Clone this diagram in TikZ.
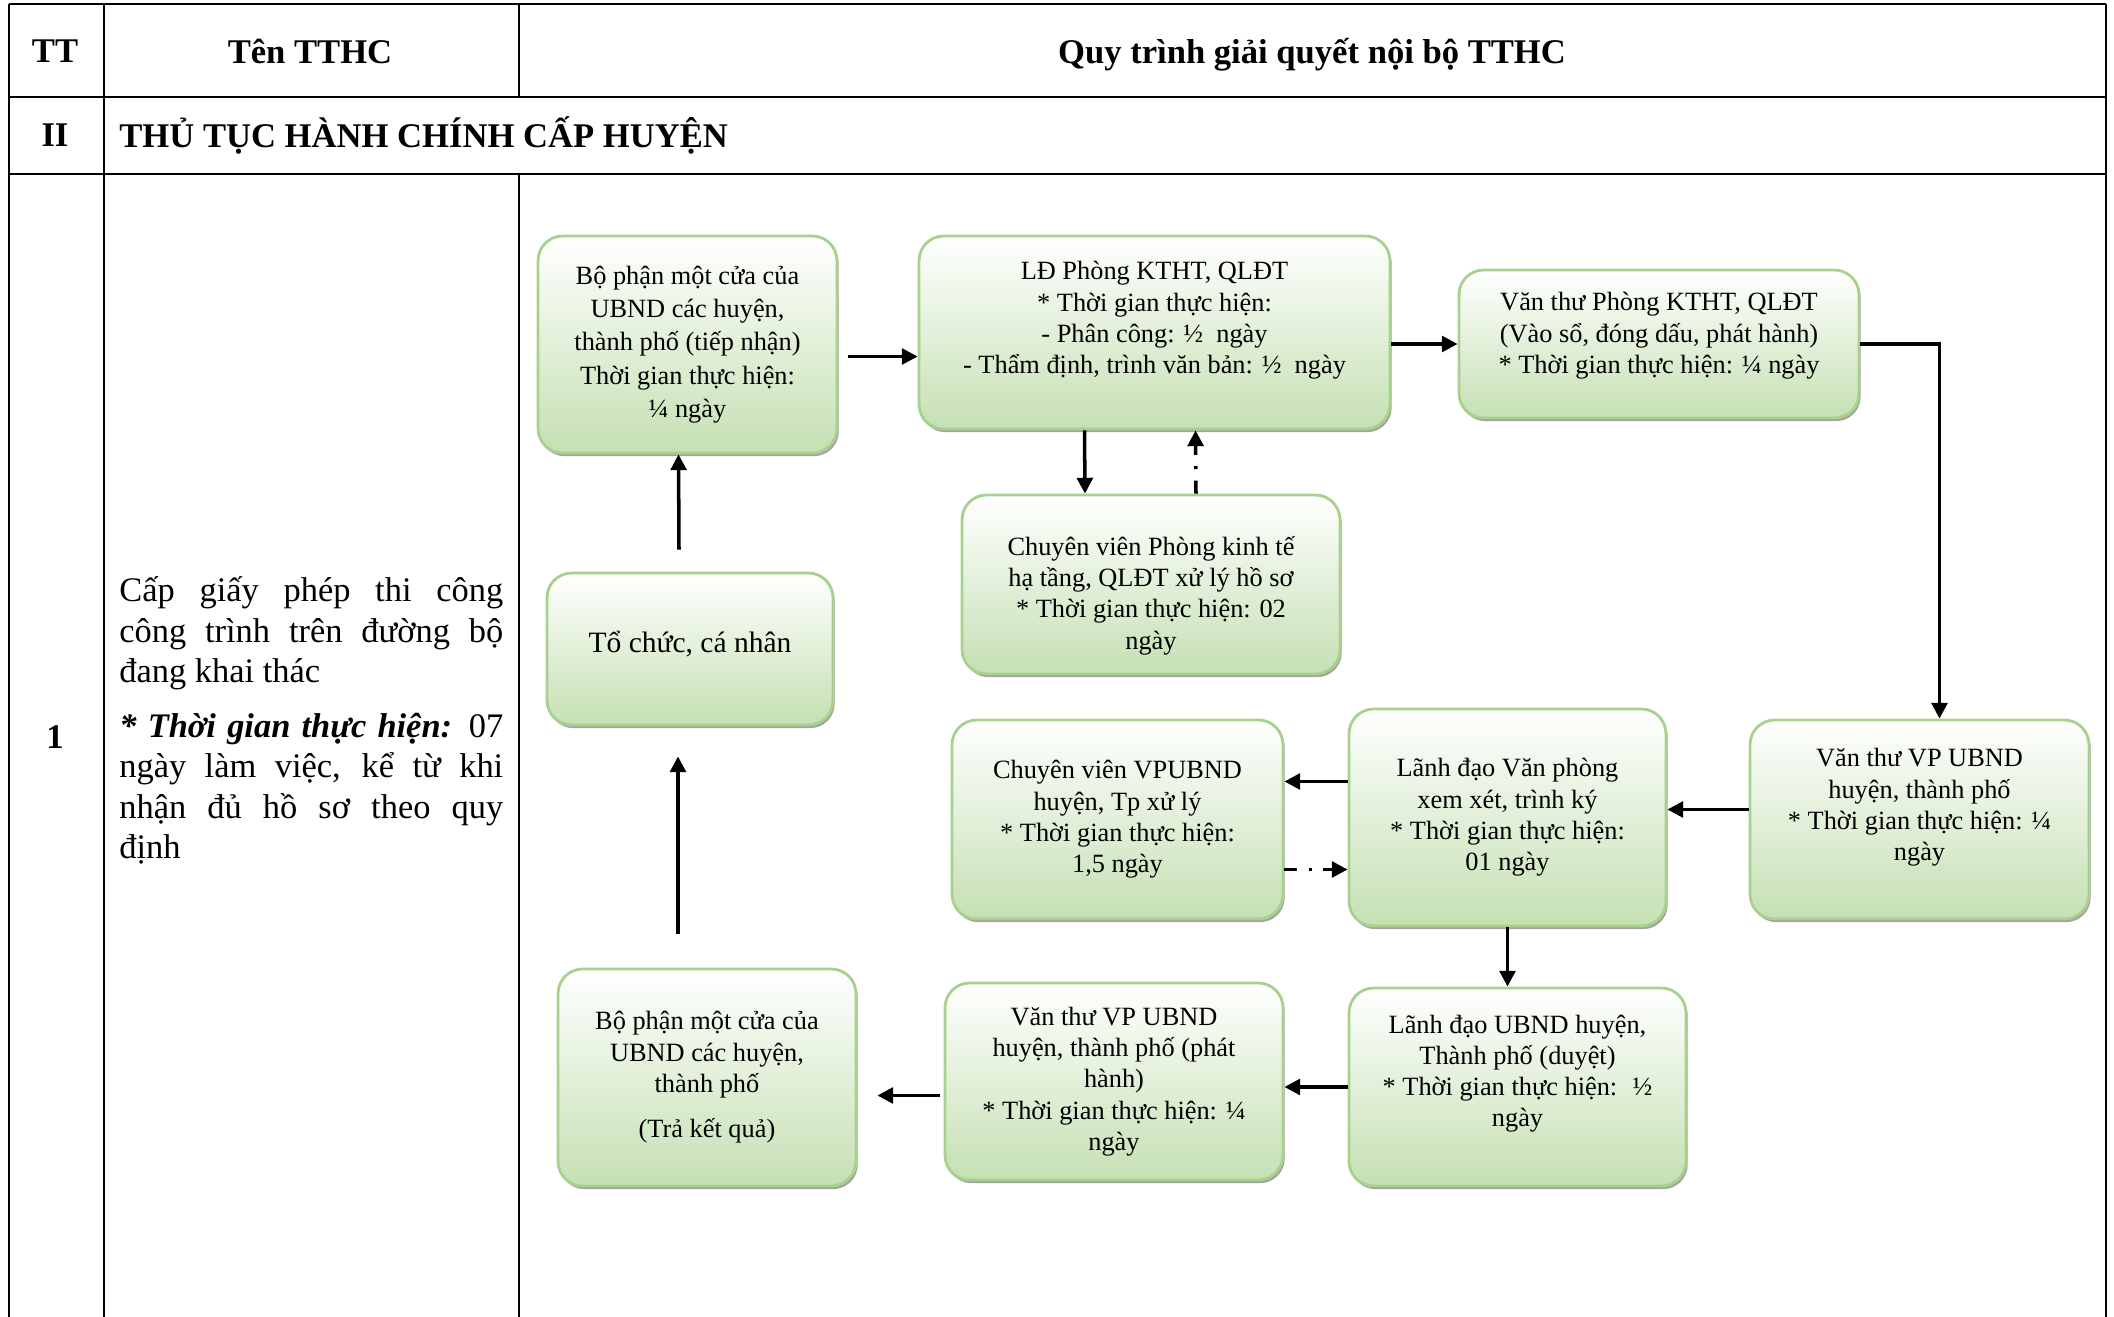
\documentclass[tikz,border=0pt]{standalone}
\usepackage{fontspec}
\setmainfont{Liberation Serif}
\usetikzlibrary{arrows.meta,calc,shadows}

\definecolor{boxgreen}{HTML}{C5E0B3}
\definecolor{boxline}{HTML}{A9D18E}

% them khoang duoi / tren dong chu trong hop
\newcommand{\padbelow}[1]{\rule[-#1]{0pt}{#1}}
\newcommand{\padabove}[1]{\rule{0pt}{#1}}

\tikzset{
  stage/.style={draw=boxline, line width=1.6pt, rounded corners=14pt,
    top color=white, bottom color=boxgreen, align=center,
    font=\fontsize{15}{17.8}\selectfont,
    drop shadow={shadow xshift=1pt, shadow yshift=-1.8pt, fill=black!45, opacity=0.8}},
  arr/.style={line width=2pt, -{Triangle[length=9pt,width=9pt]}},
  backflow/.style={dash pattern=on 7.4pt off 6.5pt on 1.7pt off 6.5pt},
  cell/.style={font=\fontsize{19.7}{23}\selectfont\bfseries},
  grid/.style={line width=1.5pt}
}

\begin{document}
\begin{tikzpicture}[x=0.02cm, y=-0.02cm]
\useasboundingbox (0,0) rectangle (2114,1317);
% khung bang
\draw[grid] (9,4) -- (2106,4);
\draw[grid] (9,97) -- (2106,97);
\draw[grid] (9,174) -- (2106,174);
\draw[grid] (9,4) -- (9,1317);
\draw[grid] (104,4) -- (104,1317);
\draw[grid] (519,4) -- (519,97);
\draw[grid] (519,174) -- (519,1317);
\draw[grid] (2106,4) -- (2106,1317);

% tieu de
\node[cell] (tt) at (55,51) {TT};
\node[cell] (tentthc) at (310,51) {Tên TTHC};
\node[cell] (quytrinh) at (1312,55) {Quy trình giải quyết nội bộ TTHC};
\node[cell] (muc) at (55,135) {II};
\node[cell, anchor=west, inner sep=0pt] (caphuyen) at (119,135) {THỦ TỤC HÀNH CHÍNH CẤP HUYỆN};
\node[cell] (stt) at (55,737) {1};
\node[anchor=base west, text width=7.68cm, align=justify, inner sep=0pt,
  font=\fontsize{19.6}{23}\selectfont] (tenthutuc) at (119,602)
  {Cấp giấy phép thi công\linebreak công trình trên đường bộ\linebreak đang khai thác\par\vspace{8pt}
   \textbf{\textit{* Thời gian thực hiện:}} 07\linebreak ngày làm việc, kể từ khi\linebreak nhận đủ hồ sơ theo quy\linebreak định};

% cac buoc
\node[stage, minimum width=5.98cm, minimum height=4.34cm, font=\fontsize{15}{19}\selectfont] (tiepnhan) at (687.5,344.5)
  {Bộ phận một cửa của\\ UBND các huyện,\\ thành phố (tiếp nhận)\\ Thời gian thực hiện:\\ ¼ ngày};
\node[stage, minimum width=9.42cm, minimum height=3.86cm] (ldphong) at (1154.5,332.5)
  {LĐ Phòng KTHT, QLĐT\\ * Thời gian thực hiện:\\ - Phân công: ½ \ ngày\\ - Thẩm định, trình văn bản: ½ \ ngày\padbelow{17pt}};
\node[stage, minimum width=8cm, minimum height=2.96cm] (vanthuphong) at (1659,344)
  {Văn thư Phòng KTHT, QLĐT\\ (Vào sổ, đóng dấu, phát hành)\\ * Thời gian thực hiện: ¼ ngày\padbelow{12.5pt}};
\node[stage, minimum width=7.56cm, minimum height=3.58cm] (cvphong) at (1151,584.5)
  {\padabove{23.5pt}Chuyên viên Phòng kinh tế\\ hạ tầng, QLĐT xử lý hồ sơ\\ * Thời gian thực hiện: 02\\ ngày};
\node[stage, minimum width=5.72cm, minimum height=3.04cm, font=\fontsize{16.8}{20}\selectfont] (tochuc) at (690,649)
  {Tổ chức, cá nhân\padbelow{8.5pt}};
\node[stage, minimum width=6.62cm, minimum height=3.98cm] (cvvp) at (1117.5,819.5)
  {Chuyên viên VPUBND\\ huyện, Tp xử lý\\ * Thời gian thực hiện:\\ 1,5 ngày};
\node[stage, minimum width=6.34cm, minimum height=4.34cm] (ldvp) at (1507.5,817.5)
  {Lãnh đạo Văn phòng\\ xem xét, trình ký\\ * Thời gian thực hiện:\\ 01 ngày};
\node[stage, minimum width=6.78cm, minimum height=3.98cm] (vanthuvp) at (1919.5,819.5)
  {Văn thư VP UBND\\ huyện, thành phố\\ * Thời gian thực hiện: ¼\\ ngày\padbelow{17pt}};
\node[stage, minimum width=5.96cm, minimum height=4.34cm] (trakq) at (707,1077.5)
  {Bộ phận một cửa của\\ UBND các huyện,\\ thành phố\\[8pt] (Trả kết quả)};
\node[stage, minimum width=6.76cm, minimum height=3.94cm] (vanthuph) at (1114,1081.5)
  {Văn thư VP UBND\\ huyện, thành phố (phát\\ hành)\\ * Thời gian thực hiện: ¼\\ ngày};
\node[stage, minimum width=6.74cm, minimum height=3.96cm] (ldubnd) at (1517.5,1087)
  {Lãnh đạo UBND huyện,\\ Thành phố (duyệt)\\ * Thời gian thực hiện: \ ½\\ ngày\padbelow{18.5pt}};

% luong xu ly
\draw[arr] ($(tiepnhan.east)+(10,12)$) -- ($(ldphong.west)+(0,24)$);
\draw[arr] (ldphong.east |- vanthuphong.west) -- (vanthuphong.west);
\draw[arr] (vanthuphong.east) -| ($(vanthuvp.north)+(20,0)$);
\draw[arr] ($(ldphong.south)+(-70,0)$) -- ($(cvphong.north)+(-66,0)$);
\draw[arr, backflow] ($(cvphong.north)+(45,0)$) -- ($(ldphong.south)+(41,0)$);
\draw[arr] ($(vanthuvp.west)+(0,-10)$) -- ($(ldvp.east)+(0,-8)$);
\draw[arr] ($(ldvp.west)+(0,-36)$) -- ($(cvvp.east)+(0,-38)$);
\draw[arr, backflow] ($(cvvp.east)+(0,50)$) -- ($(ldvp.west)+(0,52)$);
\draw[arr] (ldvp.south) -- (ldvp.south |- ldubnd.north);
\draw[arr] (ldubnd.west) -- (ldubnd.west -| vanthuph.east);
\draw[arr] ($(vanthuph.west)+(-4,14)$) -- ($(trakq.east)+(20,18)$);
\draw[arr] ($(tochuc.north)+(-11,-22)$) -- ($(tiepnhan.south)+(-9,0)$);
\draw[arr] ($(trakq.north)+(-29,-34)$) -- ($(tochuc.south)+(-12,30)$);
\end{tikzpicture}
\end{document}
